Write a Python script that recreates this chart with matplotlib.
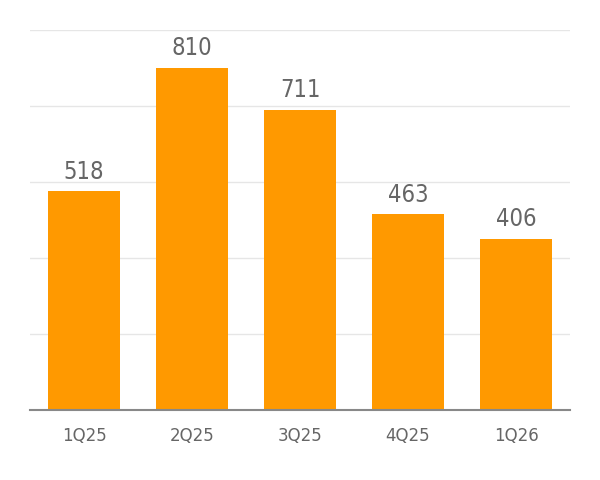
import matplotlib.pyplot as plt

quarters = ['1Q25', '2Q25', '3Q25', '4Q25', '1Q26']
values = [518, 810, 711, 463, 406]

fig = plt.figure(figsize=(6, 4.8), dpi=100)
ax = fig.add_axes([0.05, 0.146, 0.9, 0.7915])

bars = ax.bar(quarters, values, width=0.667, color='#ff9900', zorder=2)
for b, v in zip(bars, values):
    ax.text(b.get_x() + b.get_width() / 2, v + 18, str(v), ha='center', va='bottom',
            fontsize=17, color='#666666', family='DejaVu Sans', stretch='condensed')

ax.set_ylim(0, 900)
ax.set_xlim(-0.5, 4.5)
ax.set_yticks(range(0, 901, 180))
ax.yaxis.grid(True, color='#e6e6e6', linewidth=1, zorder=0)
ax.tick_params(axis='y', length=0, labelleft=False)
ax.tick_params(axis='x', length=0, labelsize=12, labelcolor='#666666', pad=12)
for s in ['top', 'right', 'left']:
    ax.spines[s].set_visible(False)
ax.spines['bottom'].set_color('#888888')
ax.spines['bottom'].set_linewidth(1.5)

fig.savefig('out.png')
